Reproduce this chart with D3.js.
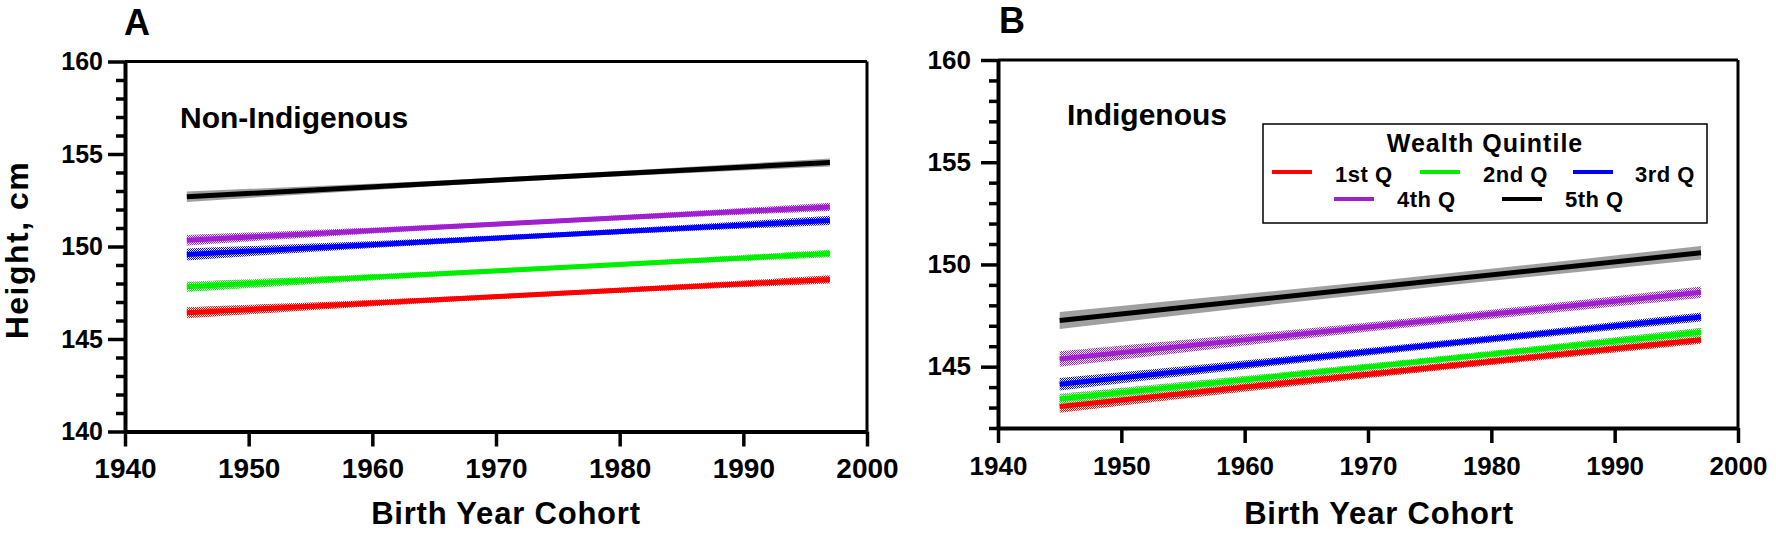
<!DOCTYPE html>
<html>
<head>
<meta charset="utf-8">
<script src="https://cdn.jsdelivr.net/npm/d3@7"></script>
<style>
  html, body { margin: 0; padding: 0; background: #fff; }
  svg { display: block; font-family: Arial, "Liberation Sans", sans-serif; font-weight: bold; }
</style>
</head>
<body>
<svg id="chart" width="1776" height="536"></svg>
<script>
// ---------------- DATA ----------------
const years = [1945, 1971, 1997];
const quintiles = ["1st Q", "2nd Q", "3rd Q", "4th Q", "5th Q"];
const xTicks = [1940, 1950, 1960, 1970, 1980, 1990, 2000];
const yTicksA = [140, 145, 150, 155, 160];
const yTicksB = [145, 150, 155, 160];

// Panel A: Non-Indigenous, fitted height (cm) at 1945, 1971, 1997
const heightsA = [
  [146.42, 147.32, 148.22],
  [147.82, 148.72, 149.62],
  [149.57, 150.49, 151.41],
  [150.34, 151.24, 152.14],
  [152.69, 153.62, 154.54]
];
// Panel A: 95% CI half-width (cm)
const ciA = [
  [0.30, 0.13, 0.22],
  [0.28, 0.12, 0.20],
  [0.32, 0.14, 0.25],
  [0.28, 0.12, 0.22],
  [0.28, 0.14, 0.22]
];
// Panel B: Indigenous
const heightsB = [
  [143.05, 144.69, 146.32],
  [143.42, 145.05, 146.68],
  [144.14, 145.79, 147.43],
  [145.37, 147.00, 148.64],
  [147.26, 148.92, 150.57]
];
const ciB = [
  [0.30, 0.18, 0.20],
  [0.25, 0.16, 0.22],
  [0.30, 0.18, 0.22],
  [0.38, 0.22, 0.28],
  [0.42, 0.30, 0.33]
];

const colors = ["#ff0000", "#00ee00", "#0000ff", "#a020d0", "#000000"];
const bandSolid = "#a0a0a0";

// ---------------- DRAW ----------------
const svg = d3.select("#chart");
const defs = svg.append("defs");
colors.forEach((c, i) => {
  const p = defs.append("pattern").attr("id", "stip" + i)
    .attr("patternUnits", "userSpaceOnUse").attr("width", 2).attr("height", 2);
  p.append("rect").attr("x", 0).attr("y", 0).attr("width", 1).attr("height", 1).attr("fill", c);
  p.append("rect").attr("x", 1).attr("y", 1).attr("width", 1).attr("height", 1).attr("fill", c);
});

function panel(cfg) {
  const x = d3.scaleLinear().domain([1940, 2000]).range(cfg.xr);
  const y = d3.scaleLinear().domain(cfg.yd).range(cfg.yr);
  const g = svg.append("g");

  // frame (top & right)
  g.append("line").attr("x1", x(1940)).attr("x2", x(2000)).attr("y1", y(cfg.yd[1])).attr("y2", y(cfg.yd[1]))
    .attr("stroke", "#000").attr("stroke-width", 3);
  g.append("line").attr("x1", x(2000)).attr("x2", x(2000)).attr("y1", y(cfg.yd[1])).attr("y2", y(cfg.yd[0]))
    .attr("stroke", "#000").attr("stroke-width", 3);

  // bands + lines
  cfg.heights.forEach((vals, i) => {
    const pts = years.map((yr, j) => ({yr, v: vals[j], h: cfg.ci[i][j]}));
    const area = d3.area().x(d => x(d.yr)).y0(d => y(d.v - d.h)).y1(d => y(d.v + d.h)).curve(d3.curveMonotoneX);
    g.append("path").attr("d", area(pts))
      .attr("fill", i === 4 ? bandSolid : "url(#stip" + i + ")");
    const line = d3.line().x(d => x(d.yr)).y(d => y(d.v));
    g.append("path").attr("d", line(pts)).attr("fill", "none")
      .attr("stroke", colors[i]).attr("stroke-width", 5);
  });

  // y axis minor
  const minor = d3.range(cfg.yd[0], cfg.yd[1] + 1, 1).filter(v => !cfg.yTicks.includes(v));
  g.append("g").attr("transform", `translate(${x(1940)},0)`)
    .call(d3.axisLeft(y).tickValues(minor).tickSize(9).tickSizeOuter(0).tickFormat(""))
    .call(a => a.select(".domain").remove())
    .call(a => a.selectAll("line").attr("stroke-width", 3.5));
  // y axis major
  const ya = g.append("g").attr("transform", `translate(${x(1940)},0)`)
    .call(d3.axisLeft(y).tickValues(cfg.yTicks).tickSize(cfg.ytl).tickSizeOuter(0).tickPadding(cfg.ypad));
  ya.select(".domain").attr("stroke-width", 4);
  ya.selectAll("line").attr("stroke-width", 3.5);
  ya.selectAll("text").attr("font-size", cfg.yfs).attr("font-weight", "bold")
    .attr("font-family", "Arial, 'Liberation Sans', sans-serif").attr("fill", "#000");

  // x axis
  const xa = g.append("g").attr("transform", `translate(0,${y(cfg.yd[0])})`)
    .call(d3.axisBottom(x).tickValues(xTicks).tickSize(15).tickSizeOuter(0).tickPadding(cfg.xpad).tickFormat(d3.format("d")));
  xa.select(".domain").attr("stroke-width", 4);
  xa.selectAll("line").attr("stroke-width", 3.5);
  xa.selectAll("text").attr("font-size", cfg.xfs).attr("font-weight", "bold")
    .attr("font-family", "Arial, 'Liberation Sans', sans-serif").attr("fill", "#000");

  // titles
  g.append("text").attr("x", cfg.xtx).attr("y", 524).attr("text-anchor", "middle")
    .attr("font-size", 31).attr("letter-spacing", 0.8).text("Birth Year Cohort");
  g.append("text").attr("x", cfg.letter[0]).attr("y", cfg.letter[1]).attr("font-size", 36).text(cfg.letterText);
  g.append("text").attr("x", cfg.note[0]).attr("y", cfg.note[1]).attr("font-size", 30).text(cfg.noteText);
  return {x, y, g};
}

panel({
  xr: [125, 867], yd: [140, 160], yr: [431.5, 61.5], yTicks: yTicksA,
  heights: heightsA, ci: ciA, ytl: 17, ypad: 5, yfs: 25, xfs: 28, xpad: 12,
  xtx: 506, letter: [124, 35], letterText: "A", note: [180, 128], noteText: "Non-Indigenous"
});
panel({
  xr: [998, 1738], yd: [142, 160], yr: [428, 60], yTicks: yTicksB,
  heights: heightsB, ci: ciB, ytl: 17, ypad: 10, yfs: 26, xfs: 26, xpad: 14,
  xtx: 1379, letter: [999, 33], letterText: "B", note: [1067, 125], noteText: "Indigenous"
});

// Y title
svg.append("text").attr("transform", "translate(28,250) rotate(-90)").attr("text-anchor", "middle")
  .attr("font-size", 32).attr("letter-spacing", 1.5).text("Height, cm");

// Legend
const lg = svg.append("g");
lg.append("rect").attr("x", 1263).attr("y", 124).attr("width", 444).attr("height", 99)
  .attr("fill", "#fff").attr("stroke", "#000").attr("stroke-width", 1.5);
lg.append("text").attr("x", 1485).attr("y", 152).attr("text-anchor", "middle")
  .attr("font-size", 25).attr("letter-spacing", 1).text("Wealth Quintile");
const legPos = [
  {lx: 1272, tx: 1335, ly: 172, ty: 182},
  {lx: 1420, tx: 1483, ly: 172, ty: 182},
  {lx: 1573, tx: 1635, ly: 172, ty: 182},
  {lx: 1334, tx: 1397, ly: 199, ty: 207},
  {lx: 1502, tx: 1565, ly: 199, ty: 207}
];
quintiles.forEach((q, i) => {
  const p = legPos[i];
  lg.append("line").attr("x1", p.lx).attr("x2", p.lx + 40).attr("y1", p.ly).attr("y2", p.ly)
    .attr("stroke", colors[i]).attr("stroke-width", 4);
  lg.append("text").attr("x", p.tx).attr("y", p.ty).attr("font-size", 22).attr("letter-spacing", 0.5).text(q);
});
</script>
</body>
</html>
